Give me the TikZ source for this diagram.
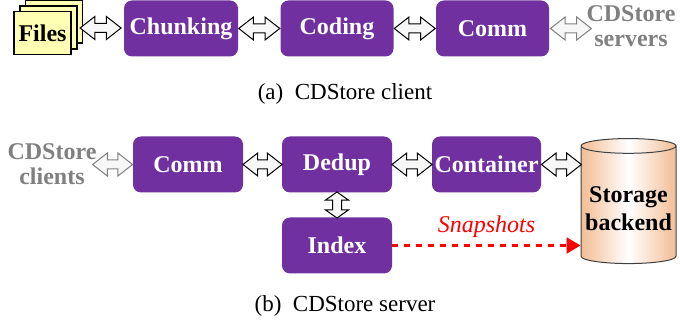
\documentclass[tikz,border=0pt]{standalone}
\usepackage{fontspec}
\setmainfont{Liberation Serif}
\usetikzlibrary{shapes.arrows,shapes.geometric,arrows.meta,calc}
\definecolor{modpurple}{HTML}{7030A0}
\definecolor{fileyellow}{HTML}{FFFFB4}
\definecolor{peach}{HTML}{F2BD94}
\tikzset{
	module/.style={fill=modpurple, rounded corners=4pt, text=white, font=\bfseries\fontsize{12}{12}\selectfont, minimum width=55pt, minimum height=28pt, inner sep=0pt},
	page/.style={draw=black, fill=fileyellow, line width=0.6pt, minimum width=28.5pt, minimum height=21.5pt, inner sep=0pt},
	dblarrow/.style={double arrow, draw=black, fill=gray!6, line width=0.5pt, minimum height=20.5pt, double arrow head extend=3.5pt, double arrow tip angle=76, inner xsep=0pt, inner ysep=2pt},
	grayarrow/.style={dblarrow, draw=gray},
	outside/.style={text=gray, font=\bfseries\fontsize{12}{12.5}\selectfont, align=center},
	caption/.style={font=\fontsize{11.5}{12}\selectfont}
}
\begin{document}
\begin{tikzpicture}[x=0.5pt,y=-0.5pt]
		\useasboundingbox (0,0) rectangle (680,325);
		% (a) client
		\node (F3) at (54,21.5) [page] {};
		\node (F2) at (48.5,27.5) [page] {};
		\node (F1) at (42.5,33) [page, font=\bfseries\fontsize{12}{12}\selectfont] {Files};
		\node (Chunk) at (181,28.5) [module, minimum width=57pt] {Chunking};
		\node (Code) at (337,28.5) [module, minimum width=56.5pt] {Coding};
		\node (CommA) at (492.5,28.5) [module, minimum width=56.5pt] {Comm};
		\node (Servers) at (631,26) [outside] {CDStore\\servers};
		
		\node (a1) at ($(F2.east)!0.5!(Chunk.west)$) [dblarrow] {};
		\node (a2) at ($(Chunk.east)!0.5!(Code.west)$) [dblarrow] {};
		\node (a3) at ($(Code.east)!0.5!(CommA.west)$) [dblarrow] {};
		\node (a4) at ($(CommA.east)+(21.5,0)$) [grayarrow] {};
		
		\node (CapA) at (345,94) [caption] {(a)\enspace CDStore client};
		
		% (b) server
		\node (Clients) at (52,164) [outside] {CDStore\\clients};
		\node (CommB) at (188,164.5) [module] {Comm};
		\node (Dedup) at (337,164.5) [module] {Dedup};
		\node (Cont) at (486.5,164.5) [module, minimum width=54.5pt] {Container};
		\node (Index) at (337,245.5) [module] {Index};
		\node (Store) at (628.5,205) [cylinder, shape border rotate=90, aspect=0.17, draw=black!75, line width=0.5pt, minimum width=47.5pt, minimum height=62.5pt, inner sep=0pt, left color=peach, right color=peach, middle color=white, align=center, font=\bfseries\fontsize{12}{14}\selectfont] {\raisebox{-3pt}[\height][\depth]{\begin{tabular}{@{}c@{}}Storage\\backend\end{tabular}}};
		
		\node (b1) at ($(CommB.west)+(-20,0)$) [grayarrow, minimum height=20pt] {};
		\node (b2) at ($(CommB.east)!0.5!(Dedup.west)$) [dblarrow, minimum height=19.5pt] {};
		\node (b3) at ($(Dedup.east)!0.5!(Cont.west)$) [dblarrow, minimum height=20pt] {};
		\node (b4) at ($(Cont.east)+(20,0)$) [dblarrow, minimum height=20pt] {};
		\node (b5) at ($(Dedup.south)!0.5!(Index.north)$) [dblarrow, rotate=90, minimum height=13pt, double arrow tip angle=110] {};
		
		\draw [red, dashed, line width=1.2pt, -{Triangle[length=7pt,width=8pt]}] (Index.east) -- (Index.east -| Store.west) node[midway, above, font=\itshape\fontsize{12}{12}\selectfont] {Snapshots};
		
		\node (CapB) at (345,306) [caption] {(b)\enspace CDStore server};
\end{tikzpicture}
\end{document}
